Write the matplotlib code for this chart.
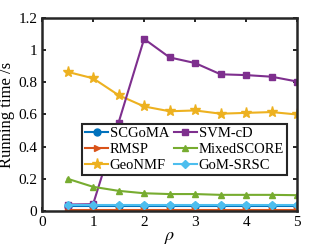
import matplotlib.pyplot as plt

rho = [0.5, 1, 1.5, 2, 2.5, 3, 3.5, 4, 4.5, 5]

scgoma = [0.028, 0.028, 0.028, 0.028, 0.028, 0.028, 0.028, 0.028, 0.028, 0.028]
rmsp = [0.005, 0.005, 0.005, 0.005, 0.005, 0.005, 0.005, 0.005, 0.005, 0.005]
geonmf = [0.865, 0.825, 0.72, 0.65, 0.62, 0.625, 0.605, 0.61, 0.615, 0.60]
svmcd = [0.04, 0.042, 0.55, 1.07, 0.955, 0.92, 0.85, 0.845, 0.835, 0.805]
mixedscore = [0.2, 0.15, 0.125, 0.11, 0.105, 0.105, 0.1, 0.1, 0.1, 0.098]
gomsrsc = [0.036, 0.036, 0.036, 0.036, 0.036, 0.036, 0.036, 0.036, 0.036, 0.036]

plt.rcParams['font.family'] = 'Liberation Serif'
plt.rcParams['mathtext.fontset'] = 'stix'

fig = plt.figure(figsize=(3.29, 2.47), dpi=100)
ax = fig.add_axes([0.128, 0.146, 0.775, 0.781])

lw = 1.5
ms = 5
ax.plot(rho, scgoma, color="#0072BD", marker="o", lw=lw, ms=ms, label="SCGoMA")
ax.plot(rho, rmsp, color="#D95319", marker=">", lw=lw, ms=ms, label="RMSP")
ax.plot(rho, geonmf, color="#EDB120", marker="*", lw=lw, ms=8, label="GeoNMF")
ax.plot(rho, svmcd, color="#7E2F8E", marker="s", lw=lw, ms=ms, label="SVM-cD")
ax.plot(rho, mixedscore, color="#77AC30", marker="^", lw=lw, ms=ms, label="MixedSCORE")
ax.plot(rho, gomsrsc, color="#4DBEEE", marker="D", lw=lw, ms=4.5, label="GoM-SRSC")

ax.set_xlim(0, 5)
ax.set_ylim(0, 1.2)
ax.set_xticks([0, 1, 2, 3, 4, 5])
ax.set_yticks([0, 0.2, 0.4, 0.6, 0.8, 1.0, 1.2])
ax.set_yticklabels(["0", "0.2", "0.4", "0.6", "0.8", "1", "1.2"])
ax.tick_params(direction="in", top=True, right=True, labelsize=11, length=3, width=1.2)
for s in ax.spines.values():
    s.set_linewidth(1.8)
    s.set_color("#262626")

ax.set_xlabel(r"$\rho$", fontsize=13, labelpad=0)
ax.set_ylabel("Running time /s", fontsize=12, labelpad=2)

leg = ax.legend(ncol=2, loc="upper left", bbox_to_anchor=(0.157, 0.45), fontsize=10.5,
                frameon=True, fancybox=False, edgecolor="#262626", handlelength=1.6,
                handletextpad=0.1, columnspacing=0.3, borderpad=0.2, labelspacing=0.18,
                borderaxespad=0, framealpha=1)
leg.get_frame().set_linewidth(1.5)

fig.savefig("out.png", dpi=100)
